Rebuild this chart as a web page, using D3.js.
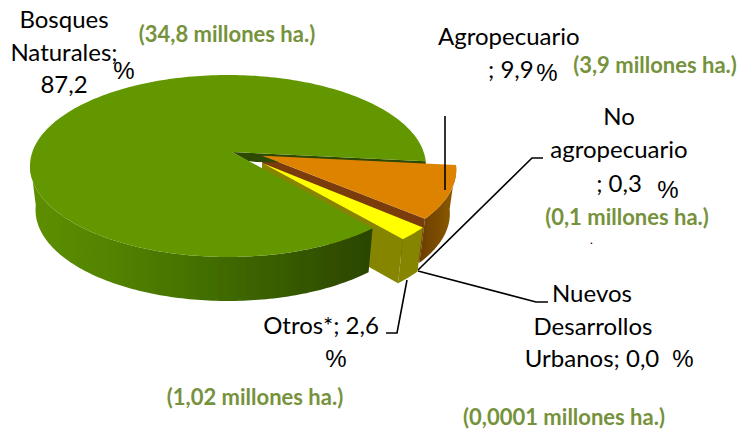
<!DOCTYPE html>
<html><head><meta charset="utf-8">
<script src="https://cdn.jsdelivr.net/npm/d3@7/dist/d3.min.js"></script>
<style>html,body{margin:0;background:#fff}svg{display:block}</style></head>
<body><svg id="c" width="745" height="430"></svg>
<script>
const categories=["Agropecuario","No agropecuario","Nuevos Desarrollos Urbanos","Otros*","Bosques Naturales"];
const percentages=[9.9,0.3,0.0,2.6,87.2];
const hectares=["3,9","0,1","0,0001","1,02","34,8"];
const topColors=["#dd8300","#7a3a0a","#7a3a0a","#ffff00","#629700"];
const sideColors=["#7a3a0a","#5a2a00","#5a2a00","#858500","#3a5f00"];
const explode=[0.158,0.17,0.17,0.195,0];

const svg=d3.select("#c");
const cx=228,cy=166,rx=198,ry=91,depth=44,apexX=232,apexY=152,shrink=0.972;
const rad=Math.PI/180,start=87*rad;
const pie=d3.pie().sort(null).value(d=>d).startAngle(start).endAngle(start+2*Math.PI);
const arcs=pie(percentages);
const line=d3.line();

function off(d,i){const m=(d.startAngle+d.endAngle)/2,k=explode[i];return [k*rx*Math.sin(m),-k*ry*Math.cos(m)];}
function rim(t,o,dz=0){const s=dz?shrink:1;return [cx+(rx*Math.sin(t)+o[0])*s,cy-ry*Math.cos(t)+o[1]+dz];}
function arcPts(a,b,o,dz=0){const n=Math.max(2,Math.ceil(Math.abs(b-a)/0.02));return d3.range(n+1).map(j=>rim(a+(b-a)*j/n,o,dz));}

const defs=svg.append("defs");
const g=defs.append("linearGradient").attr("id","gw").attr("gradientUnits","userSpaceOnUse").attr("x1",30).attr("x2",370).attr("y1",0).attr("y2",0);
[[0,"#5d8f00"],[.2,"#558500"],[.5,"#437000"],[.78,"#365800"],[1,"#2b4600"]].forEach(s=>g.append("stop").attr("offset",s[0]).attr("stop-color",s[1]));
const ga=defs.append("linearGradient").attr("id","aw").attr("gradientUnits","userSpaceOnUse").attr("x1",420).attr("x2",458).attr("y1",0).attr("y2",0);
[[0,"#6b3f00"],[1,"#8f5c00"]].forEach(s=>ga.append("stop").attr("offset",s[0]).attr("stop-color",s[1]));
const wallFill=i=>i===4?"url(#gw)":i===0?"url(#aw)":sideColors[i];

const blur=defs.append("filter").attr("id","soft").attr("x","-5%").attr("y","-5%").attr("width","110%").attr("height","110%");
blur.append("feGaussianBlur").attr("stdDeviation",0.5);
const pieG=svg.append("g").attr("filter","url(#soft)");

// radial cut walls at the clockwise end of a slice, behind the big slice
function cutWall(i){
  const d=arcs[i],o=off(d,i),apex=[apexX+o[0],apexY+o[1]],e=rim(d.endAngle,o),eb=rim(d.endAngle,o,depth);
  pieG.append("path").attr("d",line([apex,e,eb,[apex[0],apex[1]+depth]])+"Z").attr("fill",sideColors[i]);
}
cutWall(0);
cutWall(3);
[4,0,3].forEach(i=>{
  const d=arcs[i],o=off(d,i),apex=[apexX+o[0],apexY+o[1]];
  const A=d.startAngle,B=d.endAngle;
  if(i===4){
    const sp=rim(B,o);
    pieG.append("path").attr("d",line([apex,sp,[sp[0],sp[1]+3],[apex[0]+24,apex[1]+10],[apex[0]+16,apex[1]+9]])+"Z").attr("fill","#2f4a00");
  }
  const a1=Math.max(A,Math.PI/2-0.05),b1=Math.min(B,1.5*Math.PI+0.05);
  const top=arcPts(a1,b1,o),bot=arcPts(b1,a1,o,depth);
  pieG.append("path").attr("d",line(top.concat(bot))+"Z").attr("fill",wallFill(i));
  pieG.append("path").attr("d",line([apex].concat(arcPts(A,B,o)))+"Z").attr("fill",topColors[i]);
});

const leaders=[
 [[445,116],[445,190]],
 [[418,270],[532,158],[543,158]],
 [[418,271],[536,302],[548,302]],
 [[407,280],[397,333],[386,333]]
];
svg.selectAll("path.l").data(leaders).join("path").attr("class","l").attr("fill","none").attr("stroke","#000").attr("stroke-width",1.6).attr("d",d=>line(d));

const F="Lato, 'Open Sans', sans-serif";
const labels=[
 ["Bosques",64,28,"middle"],["Naturales;",64,61,"middle"],["87,2",64,93,"middle"],
 ["Agropecuario",438,45,"start"],["; 9,9",488,78,"start"],
 ["No",619,125,"middle"],["agropecuario",619,158,"middle"],["; 0,3",619,192,"middle"],
 ["Nuevos",592,302,"middle"],["Desarrollos",593,335,"middle"],["Urbanos; 0,0",592,367,"middle"],
 ["Otros*; 2,6",321,334,"middle"]
];
svg.selectAll("text.t").data(labels).join("text").attr("class","t").text(d=>d[0]).attr("x",d=>d[1]).attr("y",d=>d[2]).attr("text-anchor",d=>d[3]).attr("font-family",F).attr("font-size",24).attr("fill","#000");
const pct=[[124,79],[547,81],[668,198],[683,367],[336,367]];
svg.selectAll("text.p").data(pct).join("text").attr("class","p").text("%").attr("x",d=>d[0]).attr("y",d=>d[1]).attr("text-anchor","middle").attr("font-family","'Liberation Sans',sans-serif").attr("font-size",24).attr("fill","#000");
const haPos=[[655,73],[627,225],[564,425],[255,405],[227,42]];
svg.selectAll("text.h").data(hectares).join("text").attr("class","h").text(d=>`(${d} millones ha.)`).attr("x",(d,i)=>haPos[i][0]).attr("y",(d,i)=>haPos[i][1]).attr("text-anchor","middle").attr("font-family",F).attr("font-weight",700).attr("font-size",22).attr("fill","#76923c");
svg.append("text").text(".").attr("x",590).attr("y",244).attr("font-family",F).attr("font-size",12);
</script></body></html>
